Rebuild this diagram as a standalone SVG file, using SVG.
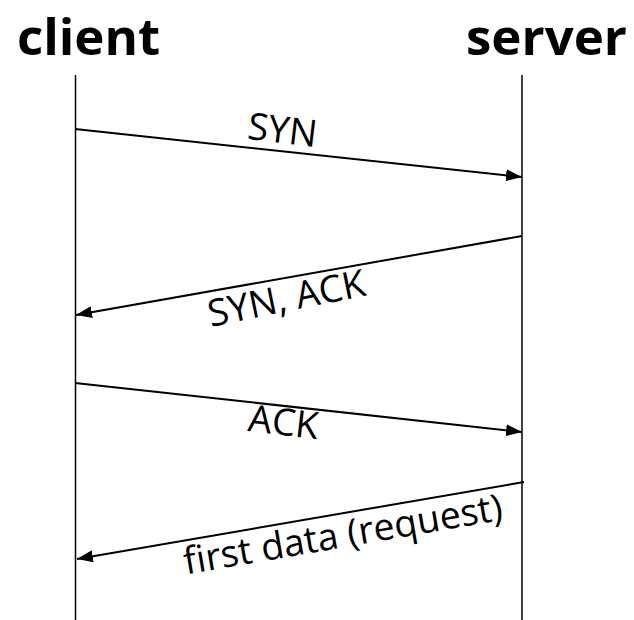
<svg xmlns="http://www.w3.org/2000/svg" width="634" height="620" viewBox="0 0 634 620">
<style>
.title{font-family:"Open Sans","Noto Sans",sans-serif;font-weight:bold;font-size:51px;fill:#000}
.lbl{font-family:"Open Sans","Noto Sans",sans-serif;font-size:37.5px;fill:#000;text-anchor:middle}
.life{stroke:#000;stroke-width:1.5;fill:none}
.msg{stroke:#000;stroke-width:2;fill:none;marker-end:url(#ah)}
</style>
<defs>
<marker id="ah" viewBox="0 0 16 12" refX="16" refY="6" markerWidth="16" markerHeight="12" markerUnits="userSpaceOnUse" orient="auto">
<path d="M0,0 L16,6 L0,12 Z" fill="#000"/>
</marker>
</defs>
<g id="client">
<text class="title" x="17" y="55">client</text>
<line class="life" x1="75.5" y1="75" x2="75.5" y2="620"/>
</g>
<g id="server">
<text class="title" x="466" y="55">server</text>
<line class="life" x1="522" y1="75" x2="522" y2="620"/>
</g>
<g id="connectors">
<line class="msg" x1="75" y1="129" x2="522" y2="177"/>
<line class="msg" x1="522" y1="236" x2="76" y2="315"/>
<line class="msg" x1="75" y1="383" x2="522" y2="432"/>
<line class="msg" x1="524" y1="482" x2="77" y2="559"/>
<text class="lbl" transform="translate(281,143) rotate(7)">SYN</text>
<text class="lbl" transform="translate(289,311) rotate(-11.5)">SYN, ACK</text>
<text class="lbl" transform="translate(282,435) rotate(6.5)">ACK</text>
<text class="lbl" transform="translate(345,547) rotate(-9.8)">first data (request)</text>
</g>
</svg>
